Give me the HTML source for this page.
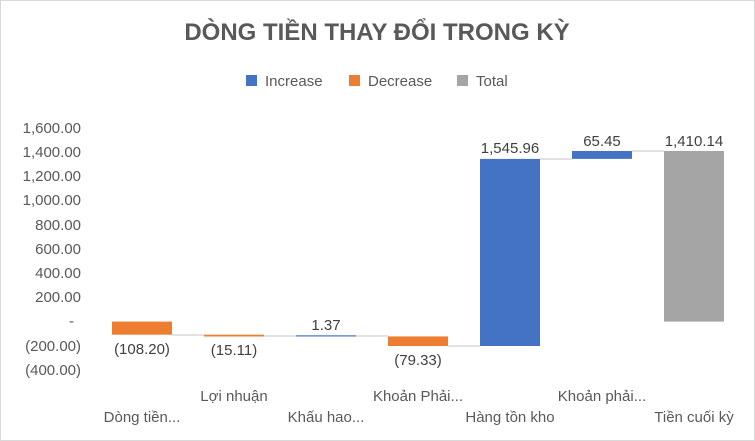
<!DOCTYPE html>
<html><head><meta charset="utf-8"><style>
body{margin:0;background:#fff}
svg{display:block;font-family:"Liberation Sans",sans-serif}
</style></head><body>
<svg width="755" height="441" viewBox="0 0 755 441">
<rect x="0.5" y="0.5" width="754" height="440" fill="#fff" stroke="#d9d9d9"/>
<text x="377" y="40" text-anchor="middle" font-size="24" font-weight="bold" fill="#595959">DÒNG TIỀN THAY ĐỔI TRONG KỲ</text>
<rect x="246" y="75" width="11" height="11" fill="#4472C4"/><text x="265" y="86" font-size="15" fill="#595959">Increase</text>
<rect x="349" y="75" width="11" height="11" fill="#ED7D31"/><text x="368" y="86" font-size="15" fill="#595959">Decrease</text>
<rect x="457" y="75" width="11" height="11" fill="#A5A5A5"/><text x="476" y="86" font-size="15" fill="#595959">Total</text>
<g font-size="15" fill="#595959" text-anchor="end">
<text x="81" y="133">1,600.00</text><text x="81" y="157">1,400.00</text><text x="81" y="181">1,200.00</text>
<text x="81" y="205">1,000.00</text><text x="81" y="230">800.00</text><text x="81" y="254">600.00</text>
<text x="81" y="278">400.00</text><text x="81" y="302">200.00</text><text x="74" y="326">-</text>
<text x="81" y="351">(200.00)</text><text x="81" y="375">(400.00)</text>
</g>
<g stroke="#d9d9d9" stroke-width="1.5">
<line x1="172" y1="335" x2="204" y2="335"/><line x1="264" y1="336" x2="296" y2="336"/>
<line x1="356" y1="336" x2="388" y2="336"/><line x1="448" y1="346" x2="480" y2="346"/>
<line x1="540" y1="159" x2="572" y2="159"/><line x1="632" y1="151" x2="664" y2="151"/>
</g>
<rect x="112" y="321.6" width="60" height="13.1" fill="#ED7D31"/>
<rect x="204" y="334.7" width="60" height="1.8" fill="#ED7D31"/>
<rect x="296" y="335.3" width="60" height="1.2" fill="#4472C4"/>
<rect x="388" y="336.4" width="60" height="9.6" fill="#ED7D31"/>
<rect x="480" y="158.9" width="60" height="187.1" fill="#4472C4"/>
<rect x="572" y="151" width="60" height="7.9" fill="#4472C4"/>
<rect x="664" y="151" width="60" height="170.6" fill="#A5A5A5"/>
<g font-size="15" fill="#404040" text-anchor="middle">
<text x="142" y="354">(108.20)</text><text x="234" y="355">(15.11)</text>
<text x="326" y="330">1.37</text><text x="418" y="365">(79.33)</text>
<text x="510" y="153">1,545.96</text><text x="602" y="146">65.45</text><text x="694" y="146">1,410.14</text>
</g>
<g font-size="15" fill="#595959" text-anchor="middle">
<text x="142" y="422">Dòng tiền...</text><text x="234" y="401">Lợi nhuận</text>
<text x="326" y="422">Khấu hao...</text><text x="418" y="401">Khoản Phải...</text>
<text x="510" y="422">Hàng tồn kho</text><text x="602" y="401">Khoản phải...</text>
<text x="694" y="422">Tiền cuối kỳ</text>
</g>
</svg>
</body></html>
